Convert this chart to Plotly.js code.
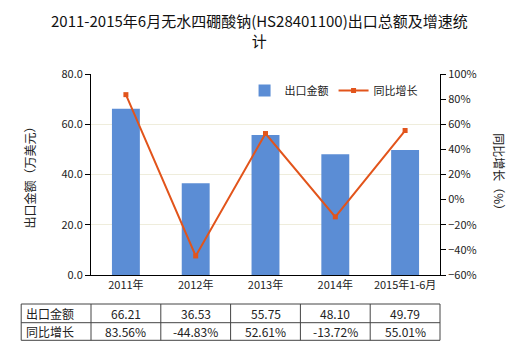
<!DOCTYPE html>
<html><head><meta charset="utf-8">
<script src="https://cdn.plot.ly/plotly-3.0.1.min.js"></script>
<style>html,body{margin:0;padding:0;background:#fff}#c{width:520px;height:350px}</style>
</head><body><div id="c"></div>
<script>
const categories = ['2011年','2012年','2013年','2014年','2015年1-6月'];
const exportValues = [66.21, 36.53, 55.75, 48.10, 49.79];
const growthValues = [83.56, -44.83, 52.61, -13.72, 55.01];
const rowLabels = ['出口金额','同比增长'];
const valueLabels = ['66.21','36.53','55.75','48.10','49.79'];
const growthLabels = ['83.56%','-44.83%','52.61%','-13.72%','55.01%'];
const titleText = '2011-2015年6月无水四硼酸钠(HS28401100)出口总额及增速统<br>计';

const FONT = '"Noto Sans CJK SC", "Microsoft YaHei", sans-serif';
const idx = categories.map((c,i)=>i);
const n = categories.length;
const toPaper = v => (v + 0.5) / n;

const traces = [
  {type:'bar', name:'出口金额', x:idx, y:exportValues, marker:{color:'#5B8DD5'}, width:0.4, yaxis:'y'},
  {type:'scatter', mode:'lines+markers', name:'同比增长', x:idx, y:growthValues, yaxis:'y2',
   line:{color:'#E2541B', width:2}, marker:{symbol:'square', size:5, color:'#E2541B'}}
];

const rowY = [-0.1443, -0.2373, -0.3249];
const shapes = [];
rowY.forEach(y=>shapes.push({type:'line', xref:'paper', yref:'paper', x0:toPaper(-1.5), x1:toPaper(n-0.5), y0:y, y1:y, line:{color:'#444', width:1}}));
for (let k=-1; k<=n; k++){
  const xv = toPaper(k-0.5);
  shapes.push({type:'line', xref:'paper', yref:'paper', x0:xv, x1:xv, y0:rowY[0], y1:rowY[2], line:{color:'#444', width:1}});
}
const annotations = [];
const rows = [valueLabels, growthLabels];
rows.forEach((r,ri)=>{
  const yc = (rowY[ri]+rowY[ri+1])/2;
  annotations.push({xref:'paper', yref:'paper', x:toPaper(-1.5), y:yc, xanchor:'left', xshift:3, yanchor:'middle', text:rowLabels[ri], showarrow:false, font:{family:FONT, size:12, color:'#222'}});
  r.forEach((t,ci)=>annotations.push({xref:'paper', yref:'paper', x:toPaper(ci), y:yc, xanchor:'center', yanchor:'middle', text:t, showarrow:false, font:{family:FONT, size:12, color:'#222'}}));
});
annotations.push({xref:'paper', yref:'paper', x:1.17, y:0.5, xanchor:'center', yanchor:'middle', text:'同比增长（%）', textangle:90, showarrow:false, font:{family:FONT, size:12, color:'#222'}});
annotations.push({xref:'paper', yref:'paper', x:-0.175, y:0.5, xanchor:'center', yanchor:'middle', text:'出口金额（万美元）', textangle:-90, showarrow:false, font:{family:FONT, size:12, color:'#222'}});
annotations.push({xref:'paper', yref:'paper', x:0.4842, y:1.214, xanchor:'center', yanchor:'middle', text:titleText, showarrow:false, font:{family:FONT, size:15, color:'#111'}});

const layout = {
  width:520, height:350,
  margin:{l:91, r:80, t:74, b:75},
  paper_bgcolor:'#fff', plot_bgcolor:'#fff',
  font:{family:FONT, size:11, color:'#222'},
  showlegend:true,
  legend:{orientation:'h', x:0.44, y:0.99, xanchor:'left', yanchor:'top', bgcolor:'rgba(0,0,0,0)', font:{family:FONT, size:11, color:'#222'}, traceorder:'normal'},
  xaxis:{tickmode:'array', tickvals:idx, ticktext:categories, range:[-0.5, n-0.5], showline:true, linecolor:'#000', linewidth:1, ticks:'', showgrid:false, zeroline:false, tickfont:{size:11}},
  yaxis:{range:[0,80], dtick:20, tickformat:'.1f', showline:true, linecolor:'#000', ticks:'outside', ticklen:5, tickcolor:'#000', showgrid:true, gridcolor:'#EFEDDC', zeroline:false},
  yaxis2:{overlaying:'y', side:'right', range:[-60,100], dtick:20, ticksuffix:'%', showline:true, linecolor:'#000', ticks:'outside', ticklen:5, tickcolor:'#000', showgrid:false, zeroline:false},
  shapes:shapes, annotations:annotations,
  bargap:0.6
};
Plotly.newPlot('c', traces, layout, {staticPlot:true, displayModeBar:false});
</script></body></html>
